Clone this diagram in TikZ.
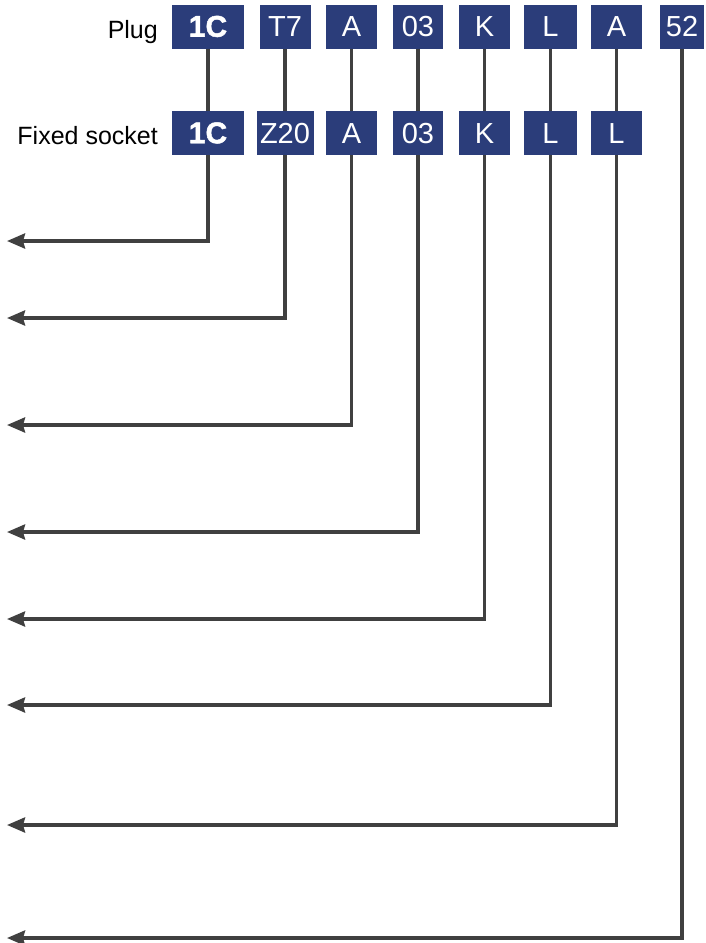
\documentclass[tikz,border=0pt]{standalone}
\usepackage{fontspec}
\setmainfont{Liberation Sans}
\usetikzlibrary{arrows.meta}
\definecolor{boxblue}{RGB}{43,61,122}
\definecolor{wire}{RGB}{64,64,64}
\begin{document}
\begin{tikzpicture}[x=1pt,y=-1pt,
  code/.style={fill=boxblue, text=white, font=\fontsize{29}{29}\selectfont,
    minimum height=44pt, inner sep=0pt, text height=20.5pt, text depth=0pt, anchor=center},
  boldcode/.style={code, font=\fontsize{30}{30}\bfseries\addfontfeature{FakeBold=1.6}\selectfont},
  lbl/.style={font=\fontsize{25}{25}\selectfont, anchor=base east, inner sep=0pt},
  wireline/.style={draw=wire, line width=3.6pt},
  arr/.style={wireline, -{Stealth[length=18pt,width=15pt,inset=2pt]}}]
\useasboundingbox (0,0) rectangle (705,943);
% labels
\node[lbl] (plug) at (158,38) {Plug};
\node[lbl] (fs) at (158,144.5) {Fixed socket};
% plug row
\node[boldcode, minimum width=72pt] (p1) at (208,26.5) {1C};
\node[code, minimum width=51pt] (p2) at (285,26.5) {T7};
\node[code, minimum width=51pt] (p3) at (351.5,26.5) {A};
\node[code, minimum width=50pt] (p4) at (418,26.5) {03};
\node[code, minimum width=51pt] (p5) at (484.5,26.5) {K};
\node[code, minimum width=53pt] (p6) at (550.5,26.5) {L};
\node[code, minimum width=51pt] (p7) at (616.5,26.5) {A};
\node[code, minimum width=44pt] (p8) at (682,26.5) {52};
% socket row
\node[boldcode, minimum width=72pt] (s1) at (208,133) {1C};
\node[code, minimum width=57pt] (s2) at (285,133) {Z20};
\node[code, minimum width=51pt] (s3) at (351.5,133) {A};
\node[code, minimum width=50pt] (s4) at (418,133) {03};
\node[code, minimum width=51pt] (s5) at (484.5,133) {K};
\node[code, minimum width=53pt] (s6) at (550.5,133) {L};
\node[code, minimum width=51pt] (s7) at (616.5,133) {L};
% arrow ends
\coordinate (e1) at (7,241);
\coordinate (e2) at (7,318);
\coordinate (e3) at (7,425);
\coordinate (e4) at (7,532);
\coordinate (e5) at (7,619);
\coordinate (e6) at (7,705);
\coordinate (e7) at (7,825);
\coordinate (e8) at (7,938);
% connectors
\foreach \i in {1,...,7} {
  \draw[wireline] (p\i.south) -- (s\i.north);
  \draw[arr] (s\i.south) |- (e\i);
}
\draw[arr] (p8.south) |- (e8);
\end{tikzpicture}
\end{document}
